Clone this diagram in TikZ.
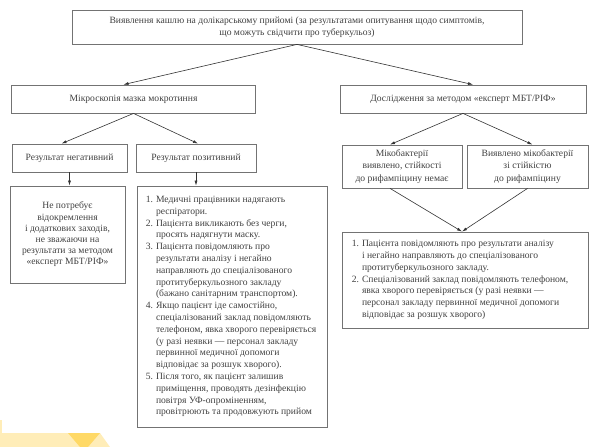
\documentclass[tikz,border=0pt]{standalone}
\usepackage{fontspec}
\setmainfont{Liberation Serif}
\usepackage{enumitem}
\usetikzlibrary{arrows.meta}
\tikzset{>={Latex[width=3pt,length=5pt]}}
\definecolor{boxline}{gray}{0.45}
\definecolor{txt}{gray}{0.25}
\definecolor{band}{HTML}{FFEDB8}
\definecolor{bandd}{HTML}{FFD966}
\tikzset{
  box/.style={draw=boxline, line width=0.8pt, text=txt, align=center, inner sep=2pt,
    font=\fontsize{9.6}{12.3}\selectfont},
  tightbox/.style={box, font=\fontsize{9.6}{11.2}\selectfont},
  listbox/.style={box, align=left, inner sep=0pt, font=\fontsize{9.6}{11.8}\selectfont},
  conn/.style={->, draw=black!80, line width=0.6pt},
}
\newlist{steps}{enumerate}{1}
\setlist[steps]{label=\arabic*., leftmargin=10pt, labelsep=3pt, itemsep=0pt, topsep=0pt, parsep=0pt, partopsep=0pt}

\begin{document}
\begin{tikzpicture}[x=1pt,y=-1pt]

  \useasboundingbox (0,0) rectangle (600,447);

  % decoration bottom left
  \fill[band] (0,433) -- (100,433) -- (110,447) -- (0,447) -- cycle;
  \fill[band] (0,420) rectangle (2,447);
  \fill[bandd] (68,433) -- (100,433) -- (88,447) -- (80,447) -- cycle;

  \node[box, minimum width=450pt, minimum height=34pt] (cough) at (297,27)
    {Виявлення кашлю на долікарському прийомі (за результатами опитування щодо симптомів,\\
     що можуть свідчити про туберкульоз)};

  \node[box, minimum width=244pt, minimum height=28pt] (micro) at (133.5,99)
    {Мікроскопія мазка мокротиння};
  \node[box, minimum width=246pt, minimum height=28pt] (expert) at (463,99)
    {Дослідження за методом «експерт МБТ/РІФ»};

  \node[box, minimum width=115pt, minimum height=28pt] (neg) at (69.5,158)
    {Результат негативний};
  \node[box, minimum width=120pt, minimum height=28pt] (pos) at (196,158)
    {Результат позитивний};

  \node[box, minimum width=120pt, minimum height=43pt] (nores) at (402,166.5)
    {Мікобактерії\\ виявлено, стійкості\\ до рифампіцину немає};
  \node[box, minimum width=121pt, minimum height=43pt] (res) at (527.5,166.5)
    {Виявлено мікобактерії\\ зі стійкістю\\ до рифампіцину};

  \node[tightbox, minimum width=115pt, minimum height=97pt] (noisol) at (67.5,234.5)
    {Не потребує\\ відокремлення\\ і додаткових заходів,\\ не зважаючи на\\
     результати за методом\\ «експерт МБТ/РІФ»};

  \node[listbox, minimum width=190pt, minimum height=241pt] (posact) at (232,306.5)
    {\begin{minipage}{172pt}\raggedright
     \begin{steps}
       \item Медичні працівники надягають\\ респіратори.
       \item Пацієнта викликають без черги,\\ просять надягнути маску.
       \item Пацієнта повідомляють про\\ результати аналізу і негайно\\ направляють до спеціалізованого\\ протитуберкульозного закладу\\ (бажано санітарним транспортом).
       \item Якщо пацієнт іде самостійно,\\ спеціалізований заклад повідомляють\\ телефоном, явка хворого перевіряється\\ (у разі неявки — персонал закладу\\ первинної медичної допомоги\\ відповідає за розшук хворого).
       \item Після того, як пацієнт залишив\\ приміщення, проводять дезінфекцію\\ повітря УФ-опроміненням,\\ провітрюють та продовжують прийом
     \end{steps}
     \end{minipage}};

  \node[listbox, minimum width=246pt, minimum height=96pt] (refer) at (465,280)
    {\begin{minipage}{226pt}\raggedright
     \begin{steps}
       \item Пацієнта повідомляють про результати аналізу\\ і негайно направляють до спеціалізованого\\ протитуберкульозного закладу.
       \item Спеціалізований заклад повідомляють телефоном,\\ явка хворого перевіряється (у разі неявки —\\ персонал закладу первинної медичної допомоги\\ відповідає за розшук хворого)
     \end{steps}
     \end{minipage}};

  \draw[conn] (cough.south) -- ([xshift=-10pt]micro.north); %% cough->micro
  \draw[conn] (cough.south) -- ([xshift=10pt]expert.north); %% cough->expert

  \draw[conn] (micro.south) -- ([xshift=-8pt]neg.north); %% micro->neg
  \draw[conn] (micro.south) -- ([xshift=2pt]pos.north); %% micro->pos

  \draw[conn] (expert.south) -- ([xshift=-12pt]nores.north); %% expert->nores
  \draw[conn] (expert.south) -- ([xshift=5pt]res.north); %% expert->res

  \draw[conn] (neg.south) -- (neg.south |- noisol.north); %% neg->noisol
  \draw[conn] (pos.south) -- (pos.south |- posact.north); %% pos->posact

  \draw[conn] ([xshift=-12pt]nores.south) -- ([xshift=-3pt]refer.north); %% nores->refer
  \draw[conn] (res.south) -- ([xshift=-3pt]refer.north); %% res->refer

\end{tikzpicture}
\end{document}
